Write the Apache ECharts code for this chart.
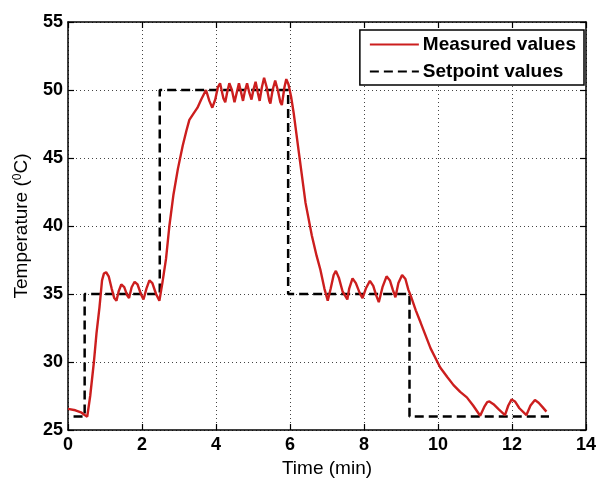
<!DOCTYPE html>
<html>
<head>
<meta charset="utf-8">
<script src="https://cdn.jsdelivr.net/npm/echarts@6/dist/echarts.min.js"></script>
<style>
html,body{margin:0;padding:0;background:#fff;}
#chart{width:599px;height:483px;}
</style>
</head>
<body>
<div id="chart"></div>
<script>
var xTicks = [0, 2, 4, 6, 8, 10, 12, 14];
var yTicks = [25, 30, 35, 40, 45, 50, 55];

var measuredTime = [0,0.2,0.35,0.45,0.52,0.6,0.7,0.77,0.85,0.92,0.97,1.03,1.1,1.18,1.25,1.31,1.37,1.44,1.52,1.6,1.65,1.72,1.8,1.88,1.97,2.04,2.12,2.2,2.28,2.38,2.47,2.55,2.65,2.74,2.85,2.97,3.1,3.2,3.28,3.4,3.5,3.6,3.73,3.82,3.9,3.98,4.05,4.11,4.2,4.25,4.3,4.36,4.43,4.5,4.56,4.62,4.68,4.73,4.78,4.84,4.9,4.96,5.01,5.07,5.13,5.18,5.24,5.3,5.37,5.44,5.47,5.53,5.6,5.67,5.74,5.78,5.85,5.9,5.96,6.03,6.1,6.24,6.42,6.59,6.72,6.82,6.93,7.02,7.1,7.18,7.24,7.32,7.42,7.55,7.6,7.69,7.78,7.88,7.96,8.05,8.16,8.25,8.33,8.4,8.5,8.61,8.7,8.78,8.85,8.93,9.03,9.12,9.2,9.26,9.4,9.53,9.8,10.06,10.25,10.42,10.6,10.78,10.95,11.14,11.25,11.33,11.39,11.5,11.65,11.81,11.9,11.99,12.08,12.2,12.39,12.5,12.62,12.72,12.82,12.93];
var measuredTemp = [26.55,26.45,26.3,26.1,25.98,27.5,30.0,32.1,34.0,36.0,36.5,36.6,36.3,35.4,34.7,34.5,35.2,35.7,35.5,34.9,34.7,35.5,35.9,35.7,35.0,34.6,35.4,36.0,35.8,35.0,34.5,35.8,37.6,40.0,42.3,44.2,45.9,47.0,47.8,48.3,48.7,49.3,50.0,49.2,48.7,49.3,50.2,50.5,49.4,49.1,49.8,50.5,50.0,49.1,49.8,50.5,49.8,49.2,49.9,50.5,49.8,49.3,50.0,50.6,49.8,49.2,50.2,50.9,50.2,49.2,49.0,50.0,50.7,50.0,49.1,48.9,50.2,50.8,50.4,49.5,48.3,45.4,41.7,39.3,37.8,36.8,35.4,34.5,35.4,36.4,36.7,36.2,35.2,34.6,35.4,36.15,35.8,35.1,34.7,35.4,35.97,35.6,34.9,34.4,35.5,36.3,36.0,35.3,34.76,35.8,36.4,36.1,35.3,34.9,33.8,32.9,31.0,29.6,28.9,28.3,27.8,27.4,26.8,26.05,26.7,27.05,27.1,26.9,26.5,26.1,26.8,27.25,27.1,26.6,26.1,26.8,27.2,27.0,26.7,26.35];

var setpointTime = [0.15, 0.45, 0.45, 2.48, 2.48, 5.95, 5.95, 9.23, 9.23, 13.0];
var setpointTemp = [26, 26, 35, 35, 50, 50, 35, 35, 26, 26];

function zip(a, b) { return a.map(function (v, i) { return [v, b[i]]; }); }

var FONT = '"Liberation Sans", Arial, Helvetica, sans-serif';
var chart = echarts.init(document.getElementById('chart'));

var gridLine = { show: true, lineStyle: { color: '#444', width: 1, type: [1, 3] } };
var axisLine = { show: true, onZero: false, lineStyle: { color: '#000', width: 1.5 } };
var tick = { show: true, inside: true, length: 6, lineStyle: { color: '#000', width: 1.2 } };

chart.setOption({
  animation: false,
  backgroundColor: '#fff',
  grid: { left: 68, right: 9, top: 22, bottom: 51, containLabel: false },
  legend: {
    orient: 'vertical',
    right: 15,
    top: 30,
    padding: [5, 8, 4, 9],
    itemGap: 8,
    itemWidth: 49,
    itemHeight: 14,
    backgroundColor: '#fff',
    borderColor: '#000',
    borderWidth: 1.5,
    borderRadius: 0,
    itemStyle: { color: 'rgba(0,0,0,0)', borderWidth: 0, opacity: 0 },
    textStyle: { fontFamily: FONT, fontSize: 19, fontWeight: 'bold', color: '#000', padding: [0, 0, 0, -1] },
    data: ['Measured values', 'Setpoint values']
  },
  xAxis: [{
    type: 'value', min: 0, max: 14, interval: 2,
    name: 'Time (min)', nameLocation: 'middle', nameGap: 29,
    nameTextStyle: { fontFamily: FONT, fontSize: 19, color: '#000' },
    axisLine: axisLine, axisTick: tick,
    axisLabel: { fontFamily: FONT, fontSize: 18, fontWeight: 'bold', color: '#000', margin: 6,
      formatter: function (v) { return xTicks.indexOf(v) >= 0 ? String(v) : ''; } },
    splitLine: gridLine
  }, {
    type: 'value', min: 0, max: 14, interval: 2, position: 'top',
    axisLine: axisLine, axisTick: tick, axisLabel: { show: false }, splitLine: { show: false }
  }],
  yAxis: [{
    type: 'value', min: 25, max: 55, interval: 5,
    name: 'Temperature ({sup|0}C)', nameLocation: 'middle', nameGap: 37,
    nameTextStyle: { fontFamily: FONT, fontSize: 19, color: '#000',
      rich: { sup: { fontFamily: FONT, fontSize: 12, color: '#000', verticalAlign: 'top', lineHeight: 19 } } },
    axisLine: axisLine, axisTick: tick,
    axisLabel: { fontFamily: FONT, fontSize: 18, fontWeight: 'bold', color: '#000', margin: 5,
      formatter: function (v) { return yTicks.indexOf(v) >= 0 ? String(v) : ''; } },
    splitLine: gridLine
  }, {
    type: 'value', min: 25, max: 55, interval: 5, position: 'right',
    axisLine: axisLine, axisTick: tick, axisLabel: { show: false }, splitLine: { show: false }
  }],
  series: [{
    name: 'Measured values',
    type: 'line',
    data: zip(measuredTime, measuredTemp),
    symbol: 'none', showSymbol: false,
    lineStyle: { color: '#cc1e1e', width: 2.4 },
    itemStyle: { color: '#cc1e1e' },
    z: 3
  }, {
    name: 'Setpoint values',
    type: 'line',
    data: zip(setpointTime, setpointTemp),
    symbol: 'none', showSymbol: false,
    lineStyle: { color: '#000', width: 2.5, type: [9, 5] },
    itemStyle: { color: '#000' },
    z: 2
  }]
});
</script>
</body>
</html>
